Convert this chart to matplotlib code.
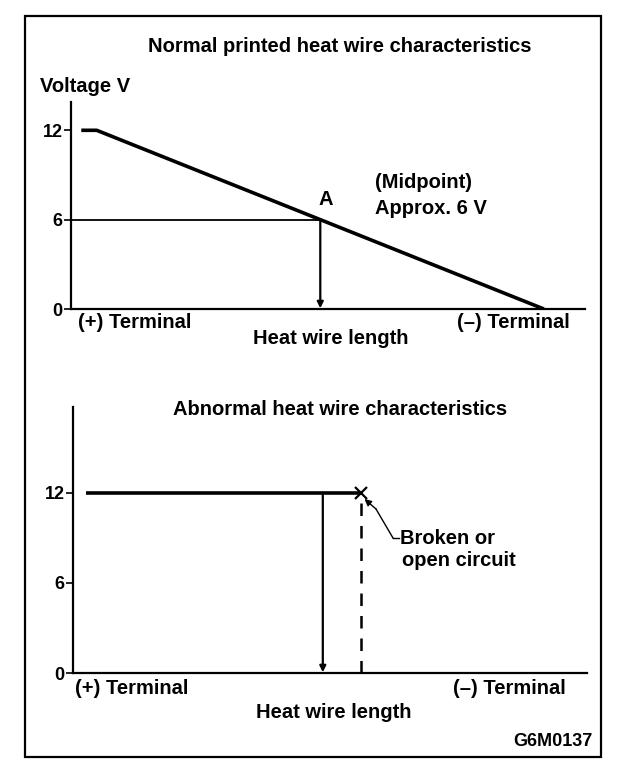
import matplotlib.pyplot as plt
from matplotlib.patches import Rectangle

plt.rcParams['font.family'] = ['Liberation Sans', 'DejaVu Sans']
plt.rcParams['font.weight'] = 'bold'

W, H = 624, 770
FS = 14.5

# heat wire length (0-100 along the axis) and voltage
normal_x = [2, 5, 92]
normal_v = [12, 12, 0]
point_a_x = 48.5
point_a_v = 6

abnormal_x = [2.5, 56]
abnormal_v = [12, 12]
probe_x = 48.6
break_x = 56

yticks = [0, 6, 12]
ytick_labels = ["0", "6", "12"]


def fx(px):
    return px / W


def fy(py):
    return 1 - py / H


def setup(ax, ytop):
    ax.set_xlim(0, 100)
    ax.set_ylim(0, ytop)
    for s in ["top", "right"]:
        ax.spines[s].set_visible(False)
    for s in ["left", "bottom"]:
        ax.spines[s].set_linewidth(1.6)
    ax.set_xticks([])
    ax.set_yticks(yticks)
    ax.set_yticklabels(ytick_labels)
    ax.tick_params(axis="y", direction="out", length=5, width=1.2,
                   labelsize=13, pad=1)
    ax.patch.set_visible(False)


fig = plt.figure(figsize=(W / 100, H / 100), dpi=100)

# outer frame
fig.add_artist(Rectangle((fx(25), fy(757)), (601 - 25) / W, (757 - 16) / H,
                         transform=fig.transFigure, fill=False, lw=1.6,
                         color="black"))

# ---- normal chart
ax1 = fig.add_axes([fx(71), fy(309), (585 - 71) / W, (309 - 102) / H])
setup(ax1, 13.9)
ax1.plot(normal_x, normal_v, color="black", lw=2.6, solid_capstyle="butt")
ax1.plot([0, point_a_x], [point_a_v, point_a_v], color="black", lw=1.3)
ax1.annotate("", xy=(point_a_x, 0.05), xytext=(point_a_x, point_a_v),
             arrowprops=dict(arrowstyle="-|>", lw=1.6, color="black",
                             mutation_scale=9, shrinkA=0, shrinkB=0))
ax1.text(point_a_x - 0.3, point_a_v + 0.7, "A", fontsize=FS, ha="left",
         va="bottom")

fig.text(fx(340), fy(47), "Normal printed heat wire characteristics",
         fontsize=FS, ha="center", va="center")
fig.text(fx(40), fy(87), "Voltage V", fontsize=FS, ha="left", va="center")
fig.text(fx(375), fy(183), "(Midpoint)", fontsize=FS, ha="left",
         va="center")
fig.text(fx(375), fy(208), "Approx. 6 V", fontsize=FS, ha="left",
         va="center")
fig.text(fx(78), fy(322), "(+) Terminal", fontsize=FS, ha="left",
         va="center")
fig.text(fx(570), fy(322), "(–) Terminal", fontsize=FS, ha="right",
         va="center")
fig.text(fx(331), fy(338), "Heat wire length", fontsize=FS, ha="center",
         va="center")

# ---- abnormal chart
ax2 = fig.add_axes([fx(73), fy(673), (587 - 73) / W, (673 - 407) / H])
setup(ax2, 17.7)
ax2.plot(abnormal_x, abnormal_v, color="black", lw=2.6,
         solid_capstyle="butt")
ax2.plot([break_x], [12], marker="x", color="black", ms=9, mew=1.6)
ax2.annotate("", xy=(probe_x, 0.05), xytext=(probe_x, 12),
             arrowprops=dict(arrowstyle="-|>", lw=1.6, color="black",
                             mutation_scale=9, shrinkA=0, shrinkB=0))
ax2.plot([break_x, break_x], [0, 12], color="black", lw=1.8,
         linestyle=(0, (5, 4)))

fig.text(fx(340), fy(410), "Abnormal heat wire characteristics",
         fontsize=FS, ha="center", va="center")
fig.text(fx(400), fy(539), "Broken or", fontsize=FS, ha="left",
         va="center")
fig.text(fx(402), fy(561), "open circuit", fontsize=FS, ha="left",
         va="center")
fig.add_artist(plt.Line2D([fx(393), fx(399)], [fy(538), fy(538)],
                          transform=fig.transFigure, color="black", lw=1))
fig.add_artist(plt.Line2D([fx(393), fx(376)], [fy(538), fy(509)],
                          transform=fig.transFigure, color="black", lw=1))
ax2.annotate("", xy=(break_x + 0.3, 11.7),
             xytext=(fx(376), fy(509)), textcoords="figure fraction",
             arrowprops=dict(arrowstyle="-|>", lw=1, color="black",
                             mutation_scale=10, shrinkA=0, shrinkB=2))
fig.text(fx(75), fy(688), "(+) Terminal", fontsize=FS, ha="left",
         va="center")
fig.text(fx(566), fy(689), "(–) Terminal", fontsize=FS, ha="right",
         va="center")
fig.text(fx(334), fy(712), "Heat wire length", fontsize=FS, ha="center",
         va="center")
fig.text(fx(592), fy(742), "G6M0137", fontsize=13, ha="right",
         va="center")

fig.savefig("out.png", dpi=100)
